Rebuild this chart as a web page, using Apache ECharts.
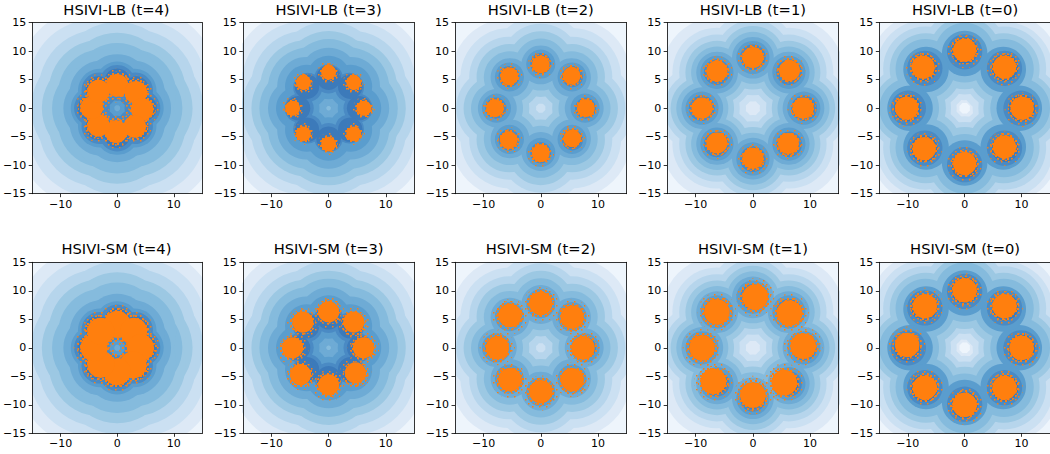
<!DOCTYPE html>
<html><head><meta charset="utf-8">
<script src="https://cdn.jsdelivr.net/npm/echarts@6/dist/echarts.min.js"></script>
<style>html,body{margin:0;padding:0;background:#fff}#c{width:1050px;height:454px}</style>
</head><body><div id="c"></div>
<script>
// ---------- data ----------
const xTicks = [-10, 0, 10];
const yTicks = [-15, -10, -5, 0, 5, 10, 15];
const timeSteps = ['4', '3', '2', '1', '0'];
const rowMethods = ['HSIVI-LB', 'HSIVI-SM'];
// mixture mode directions (8 modes on a ring)
const modeDirections = [[1,0],[0.7071,0.7071],[0,1],[-0.7071,0.7071],[-1,0],[-0.7071,-0.7071],[0,-1],[0.7071,-0.7071]];
// filled-contour bands per time step: [inner edge, outer edge] measured along a mode's axis, band level
const contourT4 = [[-6,19.5,1],[-6,17.3,2],[-6,15.2,3],[-5,13.3,4],[-4,11.5,5],[-2,9.5,6],[0.5,8.2,7],[1.3,7.6,8],[2.5,7.0,9]];
const contourT3 = [[-5,19,1],[-5,17,2],[-4,15.2,3],[-3,13.5,4],[-2,12.1,5],[0.4,10.6,6],[1.6,9.2,7],[2.6,7.7,8],[3.2,7.5,9]];
const contourT2 = [[-2,18,1],[-1,16.3,2],[0.8,14.8,3],[2.0,13.5,4],[3.1,12.2,5],[4.2,11.0,6],[5.2,10.3,7],[6.0,9.7,8],[6.5,9.3,9]];
const contourT1 = [[-1,18.5,1],[1.2,16.7,2],[2.3,15.5,3],[3.3,14.4,4],[4.3,13.4,5],[5.2,12.5,6],[6.0,11.8,7],[6.7,11.2,8],[7.3,10.7,9]];
const contourT0 = [[0.9,19.6,1],[1.4,18.4,2],[2.4,17.2,3],[3.3,16.0,4],[4.5,15.0,5],[5.6,13.6,7],[6.8,13.0,8],[7.7,12.4,9]];
// sample clusters: [x, y, spread]
const lbT4 = [[0,4.0,2.0],[3.3,2.8,2.0],[4.4,-0.2,2.0],[3.1,-3.2,2.0],[-0.2,-4.1,2.0],[-3.3,-3.0,2.0],[-4.5,0.1,2.0],[-3.3,3.0,2.0]];
const lbT3 = [[0,6.3,1.3],[4.4,4.5,1.3],[6.2,0,1.3],[4.4,-4.5,1.3],[0,-6.3,1.3],[-4.4,-4.5,1.3],[-6.3,0,1.3],[-4.4,4.5,1.3]];
const lbT2 = [[0,7.7,1.55],[5.4,5.7,1.55],[7.9,0,1.55],[5.5,-5.3,1.55],[0,-7.9,1.55],[-5.6,-5.6,1.55],[-8.0,0,1.55],[-5.5,5.6,1.55]];
const lbT1 = [[0,8.9,1.85],[6.4,6.6,1.85],[8.8,0,1.85],[6.2,-6.2,1.85],[0,-8.8,1.85],[-6.3,-6.1,1.85],[-8.9,0,1.85],[-6.3,6.5,1.85]];
const lbT0 = [[0,10.2,2.05],[7.0,7.2,2.05],[10.1,0,2.05],[7.0,-6.8,2.05],[0,-9.7,2.05],[-7.1,-7.1,2.05],[-10.2,0,2.05],[-7.3,7.2,2.05]];
const smT4 = [[0,4.1,2.4],[2.9,2.9,2.4],[4.1,0,2.4],[2.8,-3.0,2.4],[0,-4.2,2.4],[-2.9,-2.9,2.4],[-4.1,0,2.4],[-2.9,2.9,2.4]];
const smT3 = [[0,6.3,1.85],[4.4,4.5,1.85],[6.1,0,1.85],[4.7,-4.4,1.85],[0,-6.5,1.85],[-4.9,-4.7,1.85],[-6.3,0,1.85],[-4.5,4.5,1.85]];
const smT2 = [[0,7.8,2.05],[5.5,5.4,2.05],[7.4,0,2.05],[5.5,-5.6,2.05],[0,-7.7,2.05],[-5.4,-5.6,2.05],[-7.6,0,2.05],[-5.4,5.7,2.05]];
const smT1 = [[0.4,8.9,2.25],[6.4,6.1,2.25],[8.8,0.3,2.25],[5.5,-6.1,2.25],[0,-8.3,2.25],[-6.9,-5.9,2.25],[-8.9,0,2.25],[-6.3,6.3,2.25]];
const smT0 = [[0,10.1,2.15],[7.0,7.3,2.15],[10,0,2.15],[7,-7,2.15],[0,-10,2.15],[-7,-7,2.15],[-10.1,0.5,2.15],[-7,7.3,2.15]];

// ---------- styles ----------
const levelColors = ['#eef5fc','#dde9f6','#cbe0f2','#b6d5ec','#9cc8e3','#85bbdd','#6eabd5','#5a9dce','#4a8ac4','#3c7aba'];
const contours = [contourT4, contourT3, contourT2, contourT1, contourT0];
const clusters = [[lbT4, lbT3, lbT2, lbT1, lbT0], [smT4, smT3, smT2, smT1, smT0]];
const ORANGE = '#ff7f0e';
const FONT = '"DejaVu Sans", "Liberation Sans", sans-serif';
const gridLefts = [30.7, 242.85, 455.0, 667.15, 879.3];
const gridTops = [22.7, 262.3];
const GW = 171.5, GH = 171;
const minus = v => String(v).replace('-', '\u2212');

// speckle texture for the sparse fringe of each cluster
function speckle(step, dot) {
  const cv = document.createElement('canvas');
  cv.width = step; cv.height = step;
  const g = cv.getContext('2d');
  g.fillStyle = ORANGE;
  g.fillRect(0, 0, dot, dot);
  g.fillRect(Math.floor(step / 2), Math.floor(step / 2) + 1, dot, dot);
  return cv.toDataURL();
}
const fringeInner = {image: speckle(5, 2), repeat: 'repeat'};
const fringeOuter = {image: speckle(7, 1.5), repeat: 'repeat'};

const grids = [], xAxes = [], yAxes = [], series = [], graphics = [];
let p = 0;
for (let r = 0; r < 2; r++) {
  for (let c = 0; c < 5; c++) {
    grids.push({left: gridLefts[c], top: gridTops[r], width: GW, height: GH,
      show: true, backgroundColor: levelColors[0], borderWidth: 0, containLabel: false});
    const axLine = {show: true, onZero: false, lineStyle: {color: '#000', width: 0.8}};
    xAxes.push({gridIndex: p, type: 'value', min: -15, max: 15, position: 'bottom', z: 10,
      axisLine: axLine,
      axisTick: {show: true, inside: false, length: 3.5, customValues: xTicks, lineStyle: {color: '#000', width: 0.8}},
      axisLabel: {show: true, customValues: xTicks, margin: 5, color: '#000', fontSize: 11, fontFamily: FONT, formatter: minus},
      splitLine: {show: false}});
    xAxes.push({gridIndex: p, type: 'value', min: -15, max: 15, position: 'top', z: 10,
      axisLine: axLine, axisTick: {show: false}, axisLabel: {show: false}, splitLine: {show: false}});
    yAxes.push({gridIndex: p, type: 'value', min: -15, max: 15, interval: 5, position: 'left', z: 10,
      axisLine: axLine,
      axisTick: {show: true, inside: false, length: 3.5, customValues: yTicks, lineStyle: {color: '#000', width: 0.8}},
      axisLabel: {show: true, customValues: yTicks, margin: 6, color: '#000', fontSize: 11, fontFamily: FONT, formatter: minus},
      splitLine: {show: false}});
    yAxes.push({gridIndex: p, type: 'value', min: -15, max: 15, interval: 5, position: 'right', z: 10,
      axisLine: axLine, axisTick: {show: false}, axisLabel: {show: false}, splitLine: {show: false}});

    // contour bands: one disc per mode per band (outer bands first)
    const bandData = [];
    contours[c].forEach(([pin, pout, lvl]) => {
      const rho = (pin + pout) / 2, rad = (pout - pin) / 2;
      modeDirections.forEach(d => bandData.push([rho * d[0], rho * d[1], rad, lvl]));
    });
    series.push({type: 'custom', xAxisIndex: 2 * p, yAxisIndex: 2 * p, clip: true, silent: true, z: 2,
      data: bandData,
      renderItem: (params, api) => {
        const pt = api.coord([api.value(0), api.value(1)]);
        const s = api.size([api.value(2), api.value(2)]);
        return {type: 'circle', shape: {cx: pt[0], cy: pt[1], r: s[0]}, style: {fill: levelColors[api.value(3)], stroke: null}};
      }});

    // sample clusters: sparse outer fringe, denser inner fringe, then solid core
    const cl = clusters[r][c];
    const sData = cl.map(q => [q[0], q[1], q[2], 0])
      .concat(cl.map(q => [q[0], q[1], q[2], 1]))
      .concat(cl.map(q => [q[0], q[1], q[2], 2]));
    series.push({type: 'custom', xAxisIndex: 2 * p, yAxisIndex: 2 * p, clip: true, silent: true, z: 3,
      data: sData,
      renderItem: (params, api) => {
        const pt = api.coord([api.value(0), api.value(1)]);
        const s = api.size([api.value(2), api.value(2)]);
        const k = api.value(3);
        const scale = k === 0 ? 1.5 : (k === 1 ? 1.22 : 1);
        const fill = k === 0 ? fringeOuter : (k === 1 ? fringeInner : ORANGE);
        return {type: 'circle', shape: {cx: pt[0], cy: pt[1], r: s[0] * scale},
          style: {fill: fill, stroke: null}};
      }});

    graphics.push({type: 'text', x: gridLefts[c] + GW / 2, y: gridTops[r] - 13.5,
      style: {text: rowMethods[r] + ' (t=' + timeSteps[c] + ')', fill: '#000',
        font: '14.7px ' + FONT, textAlign: 'center', textVerticalAlign: 'middle', verticalAlign: 'middle'}});
    p++;
  }
}

const chart = echarts.init(document.getElementById('c'), null, {renderer: 'svg', width: 1050, height: 454});
chart.setOption({
  animation: false,
  backgroundColor: '#fff',
  grid: grids, xAxis: xAxes, yAxis: yAxes, series: series, graphic: graphics
});
</script></body></html>
